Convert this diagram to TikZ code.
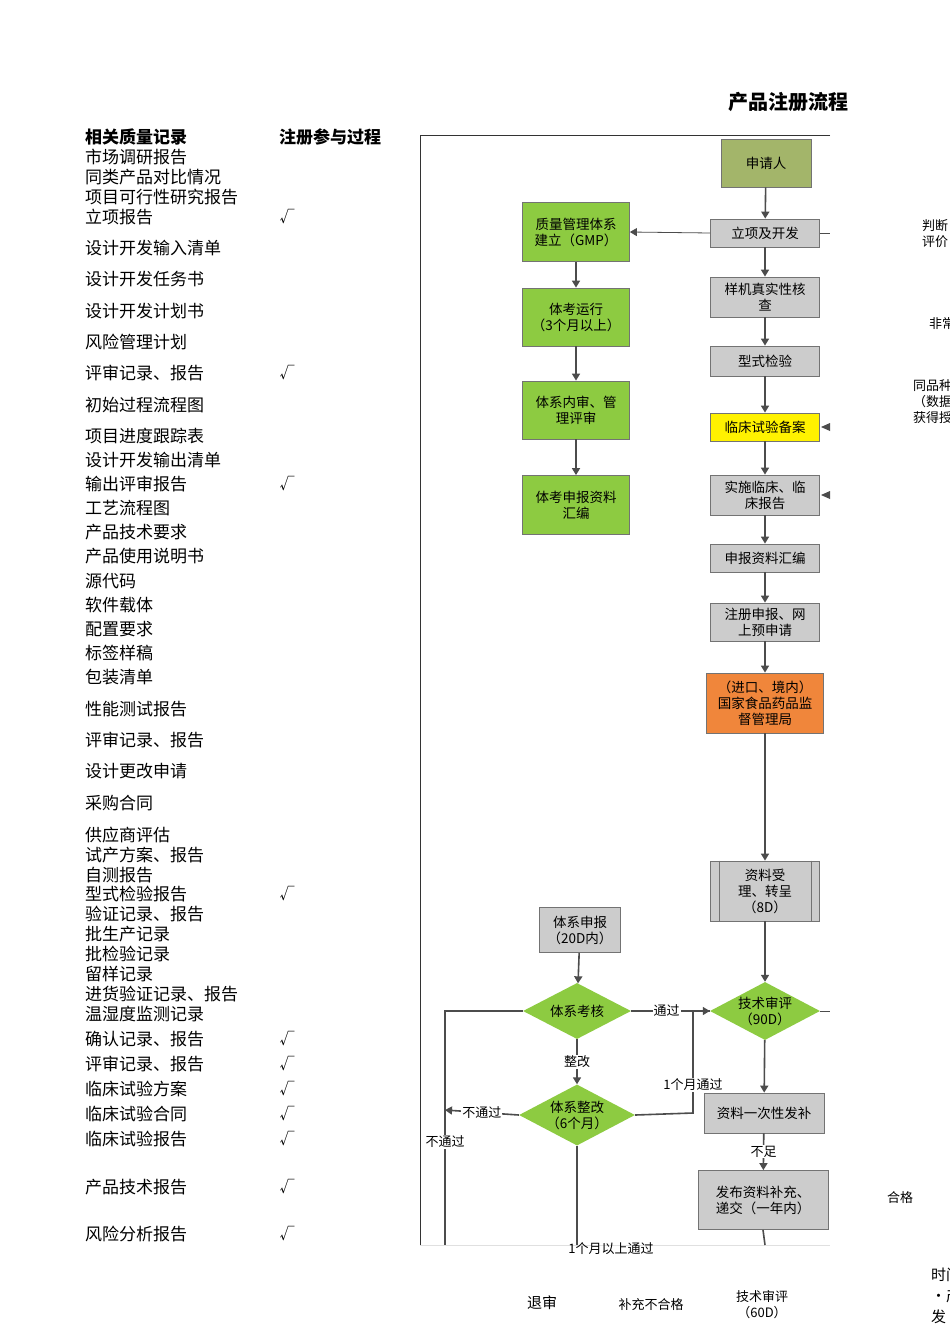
\documentclass[tikz,border=0pt]{standalone}
\usepackage{fontspec}
\setmainfont{Noto Sans CJK SC}
\usetikzlibrary{shapes.geometric,shapes.misc,arrows.meta}
\begin{document}
\begin{tikzpicture}[x=1pt,y=-1pt,
  lst/.style={anchor=west,inner sep=0pt,font=\fontsize{17}{18}\selectfont},
  ck/.style={inner sep=0pt,font=\fontsize{15}{16}\selectfont},
  fb/.style={draw=black!55,line width=0.8pt,minimum width=109pt,align=center,font=\fontsize{13.5}{16}\selectfont,inner sep=2pt},
  gb/.style={fb,fill=black!20},
  grn/.style={fb,fill={rgb,255:red,141;green,203;blue,65},minimum width=107pt},
  dia/.style={diamond,aspect=1.9,fill={rgb,255:red,141;green,203;blue,65},align=center,font=\fontsize{13.5}{16}\selectfont,inner sep=0pt},
  ar/.style={draw=black!70,line width=1.6pt,-{Triangle[length=7pt,width=8pt]}},
  ln/.style={draw=black!70,line width=1.6pt},
  lb/.style={fill=white,inner sep=1pt,font=\fontsize{13}{15}\selectfont},
  ot/.style={inner sep=0pt,font=\fontsize{13}{16}\selectfont,align=left}]
\useasboundingbox (0,0) rectangle (950,1344);
\clip (0,0) rectangle (950,1344);
\fill[white] (0,0) rectangle (950,1344);
% title
\node[font=\bfseries\fontsize{20}{21}\selectfont] (title) at (788,102) {产品注册流程};
% left list
\node[lst,font=\bfseries\fontsize{17}{18}\selectfont] (h1) at (85,137) {相关质量记录};
\node[lst,font=\bfseries\fontsize{17}{18}\selectfont] (h2) at (279,137) {注册参与过程};
\foreach \t/\y in {市场调研报告/157,同类产品对比情况/177,项目可行性研究报告/197,立项报告/217,设计开发输入清单/248,设计开发任务书/279,设计开发计划书/311,风险管理计划/342,评审记录、报告/373,初始过程流程图/405,项目进度跟踪表/436,设计开发输出清单/460,输出评审报告/484,工艺流程图/508,产品技术要求/532,产品使用说明书/556,源代码/581,软件载体/605,配置要求/629,标签样稿/653,包装清单/677,性能测试报告/709,评审记录、报告/740,设计更改申请/771,采购合同/803,供应商评估/835,试产方案、报告/855,自测报告/875,型式检验报告/894,验证记录、报告/914,批生产记录/934,批检验记录/954,留样记录/974,进货验证记录、报告/994,温湿度监测记录/1014,确认记录、报告/1039,评审记录、报告/1064,临床试验方案/1089,临床试验合同/1114,临床试验报告/1139,产品技术报告/1187,风险分析报告/1234}
  \node[lst] (l\y) at (85,\y) {\t};
\foreach \y in {217,373,484,894,1039,1064,1089,1114,1139,1187,1234}
  \node[ck] (c\y) at (287,\y) {√};
% panel frame
\draw[black!80,line width=0.8pt] (830,135) -- (420,135) -- (420,1245);
\draw[black!12,line width=0.5pt] (420,1245) -- (830,1245);
% right column
\node[fb,fill={rgb,255:red,163;green,181;blue,106},minimum width=90pt,minimum height=48pt] (sq) at (766,163) {申请人};
\node[gb,minimum height=28pt] (lx) at (765,233) {立项及开发};
\node[gb,minimum height=40pt] (yj) at (765,297) {样机真实性核\\查};
\node[gb,minimum height=30pt] (xs) at (765,361) {型式检验};
\node[fb,fill=yellow,minimum height=28pt] (lc) at (765,427) {临床试验备案};
\node[gb,minimum height=40pt] (ss) at (765,495) {实施临床、临\\床报告};
\node[gb,minimum height=28pt] (sb) at (765,558) {申报资料汇编};
\node[gb,minimum height=38pt] (zc) at (765,622) {注册申报、网\\上预申请};
\node[fb,fill={rgb,255:red,240;green,134;blue,59},minimum width=117pt,minimum height=60pt] (gj) at (765,703) {（进口、境内）\\国家食品药品监\\督管理局};
\node[gb,minimum height=60pt] (zl) at (765,891) {资料受\\理、转呈\\（8D）};
\draw[black!55,line width=0.8pt] ([xshift=9pt]zl.north west) -- ([xshift=9pt]zl.south west)
  ([xshift=-9pt]zl.north east) -- ([xshift=-9pt]zl.south east);
% left green column
\node[grn,minimum height=59pt] (gmp) at (576,232) {质量管理体系\\建立（GMP）};
\node[grn,minimum height=58pt] (tk) at (576,317) {体考运行\\（3个月以上）};
\node[grn,minimum height=58pt] (ns) at (576,410) {体系内审、管\\理评审};
\node[grn,minimum height=59pt] (tz) at (576,505) {体考申报资料\\汇编};
% lower part
\node[gb,minimum width=81pt,minimum height=45pt] (txsb) at (580,930) {体系申报\\（20D内）};
\node[dia,minimum width=108pt,minimum height=56pt] (txkh) at (577,1011) {体系考核};
\node[dia,minimum width=110pt,minimum height=58pt] (jsps) at (765,1011) {技术审评\\（90D）};
\node[dia,minimum width=104pt,minimum height=58pt] (txzg) at (577,1115) {体系整改\\（6个月）};
\node[gb,minimum width=120pt,minimum height=40pt] (zlfb) at (764,1113) {资料一次性发补};
\node[gb,minimum width=130pt,minimum height=59pt,align=left] (fbzl) at (763,1200) {发布资料补充、\\递交（一年内）};
% coordinates
\coordinate (lxr) at (830,233);
\coordinate (jsr) at (830,1011);
\coordinate (xl) at (445,1011);
\coordinate (xlb) at (445,1245);
\coordinate (xzl) at (445,1110);
\coordinate (zgb) at (577,1245);
\coordinate (fbb) at (765,1245);
\coordinate (m1) at (693,1113);
\coordinate (m2) at (693,1011);
% connectors
\draw[ar] (sq) -- (lx);
\draw[ar] (lx) -- (yj);
\draw[ar] (yj) -- (xs);
\draw[ar] (xs) -- (lc);
\draw[ar] (lc) -- (ss);
\draw[ar] (ss) -- (sb);
\draw[ar] (sb) -- (zc);
\draw[ar] (zc) -- (gj);
\draw[ar] (gj) -- (zl);
\draw[ar] (zl) -- (jsps);
\draw[ar,line width=0.8pt] (lx.west) -- (gmp.east);
\draw[black!70,line width=0.8pt] (lx.east) -- (lxr);
\fill[black!70] (821,427) -- (830,423) -- (830,431) -- cycle;
\fill[black!70] (821,495) -- (830,491) -- (830,499) -- cycle;
\draw[ar] (gmp) -- (tk);
\draw[ar] (tk) -- (ns);
\draw[ar] (ns) -- (tz);
\draw[ar] (txsb) -- (txkh);
\draw[ln] (txkh.east) -- node[lb,pos=0.45] {通过} (jsps.west);
\draw[ar] ([xshift=-8pt]jsps.west) -- (jsps.west);
\draw[ln] (txzg.east) -- (m1) -- (m2);
\node[lb] (l1) at (693,1085) {1个月通过};
\draw[ar] (txkh) -- node[lb] {整改} (txzg);
\draw[ln] (txkh.west) -- (xl) -- (xlb);
\node[lb] (l2) at (445,1142) {不通过};
\draw[ar] (txzg.west) -- node[lb,pos=0.5] {不通过} (xzl);
\draw[ln] (txzg.south) -- (zgb);
\node[lb,fill=none] (l3) at (611,1249) {1个月以上通过};
\draw[black!70,line width=0.8pt] (jsps.east) -- (jsr);
\draw[ar] (jsps) -- (zlfb);
\draw[ar] (zlfb) -- node[lb] {不足} (fbzl);
\draw[ln] (fbzl.south) -- (fbb);
% outside texts
\node[ot,anchor=west] (o1) at (922,234) {判断\\评价};
\node[ot,anchor=west] (o2) at (929,324) {非常};
\node[ot,anchor=west] (o3) at (913,402) {同品种\\（数据\\获得授};
\node[ot] (o4) at (900,1198) {合格};
\node[ot,anchor=west,font=\fontsize{15}{21}\selectfont] (o5) at (931,1296) {时间\\•产\\发};
\node[ot,font=\fontsize{15}{16}\selectfont] (b1) at (542,1303) {退审};
\node[ot] (b2) at (651,1305) {补充不合格};
\node[ot,align=center] (b3) at (762,1305) {技术审评\\（60D）};
\end{tikzpicture}
\end{document}
